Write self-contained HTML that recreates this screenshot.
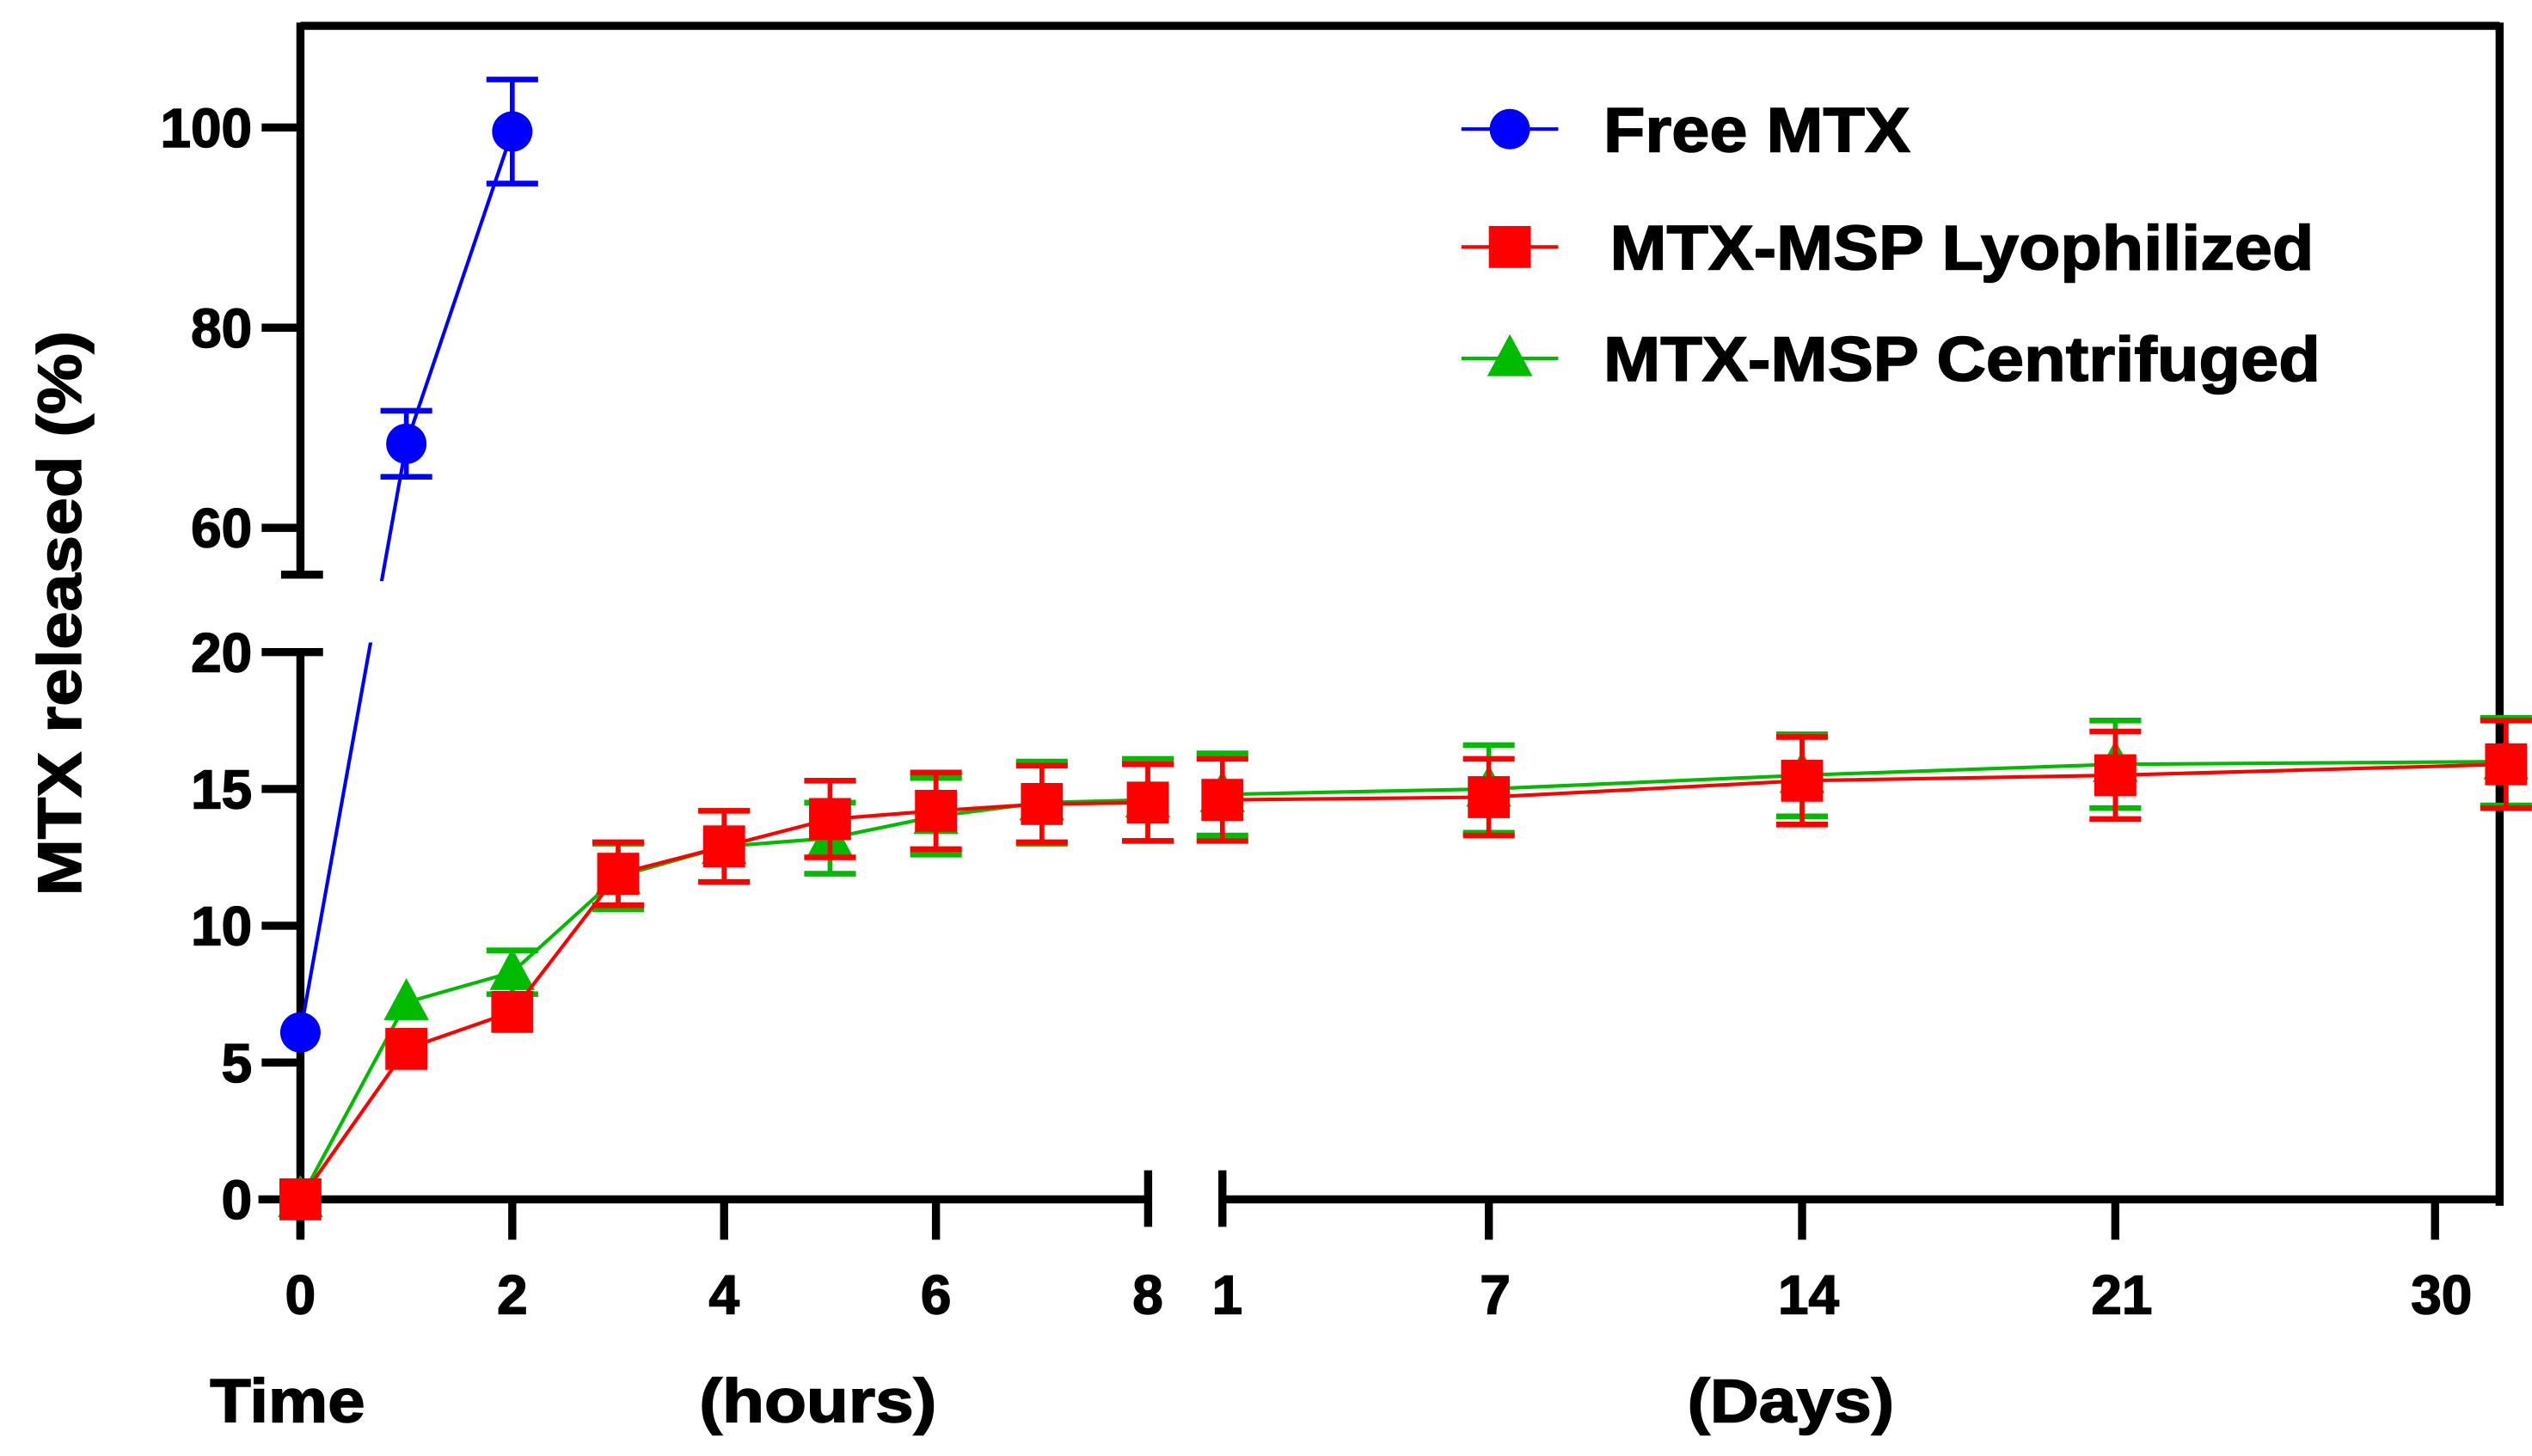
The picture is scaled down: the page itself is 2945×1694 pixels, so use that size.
<!DOCTYPE html>
<html><head><meta charset="utf-8"><style>
html,body{margin:0;padding:0;background:#fff;}
svg{display:block;font-family:"Liberation Sans",Arial,sans-serif;font-weight:bold;}
</style></head><body>
<svg id="chart" width="2945" height="1694" viewBox="0 0 1568 902" xmlns="http://www.w3.org/2000/svg">
<g id="axes"></g>
<g id="series"></g>
<g id="legend"></g>
</svg>
<script>
const hourCats = [0,1,2,3,4,5,6,7,8];
const dayCats = [1,7,14,21,32];
const lyoHours = [0,5.5,6.85,11.9,12.9,13.9,14.2,14.45,14.5];
const lyoHoursErr = [0,0,0,1.15,1.3,1.4,1.4,1.4,1.4];
const lyoDays = [14.6,14.7,15.3,15.5,15.9];
const lyoDaysErr = [1.5,1.4,1.6,1.6,1.6];
const cenHours = [0,7.2,8.3,11.8,12.9,13.2,14.0,14.5,14.6];
const cenHoursErr = [0,0,0.8,1.2,1.3,1.3,1.4,1.5,1.5];
const cenDays = [14.8,15.0,15.5,15.9,16.0];
const cenDaysErr = [1.5,1.6,1.5,1.6,1.6];
const freeHours = [0,1,2];
const freeVals = [6.1,68.4,99.6];
const freeErr = [0,3.3,5.2];
const yTicksLow = [0,5,10,15,20];
const yTicksHigh = [60,80,100];
const hourTicks = [0,2,4,6,8];
const dayTicks = [1,7,14,21,30];

const NS="http://www.w3.org/2000/svg";
function el(parent,tag,attrs,text){const e=document.createElementNS(NS,tag);for(const k in attrs)e.setAttribute(k,attrs[k]);if(text!==undefined)e.textContent=text;parent.appendChild(e);return e;}
const xH = h => 186 + h*65.6;
const dayPos = [[1,757],[7,922],[14,1116],[21,1310],[30,1508]];
function xD(d){
  for(let i=0;i<dayPos.length-1;i++){const [a,pa]=dayPos[i],[b,pb]=dayPos[i+1];
    if(d<=b||i===dayPos.length-2) return pa+(d-a)*(pb-pa)/(b-a);}
}
function y(v){ return v<=20 ? 743 - v*16.95 : 79 + (100-v)*6.2; }

const ax=document.getElementById('axes');
let l;
l=el(ax,'line',{x1:186,y1:16,x2:1548,y2:16,stroke:'#000','stroke-width':5});

l=el(ax,'line',{x1:1548,y1:14,x2:1548,y2:747,stroke:'#000','stroke-width':5});

l=el(ax,'line',{x1:186,y1:14,x2:186,y2:356,stroke:'#000','stroke-width':5});

el(ax,'line',{x1:174,y1:356,x2:200,y2:356,stroke:'#000','stroke-width':5});
l=el(ax,'line',{x1:186,y1:404,x2:186,y2:767,stroke:'#000','stroke-width':5});

el(ax,'line',{x1:162,y1:404,x2:200,y2:404,stroke:'#000','stroke-width':5});
l=el(ax,'line',{x1:160,y1:743,x2:711,y2:743,stroke:'#000','stroke-width':5});

el(ax,'line',{x1:711,y1:725,x2:711,y2:760,stroke:'#000','stroke-width':5});
l=el(ax,'line',{x1:757,y1:743,x2:1550,y2:743,stroke:'#000','stroke-width':5});

el(ax,'line',{x1:757,y1:725,x2:757,y2:760,stroke:'#000','stroke-width':5});

const tickFont={fill:'#000','font-size':34,'font-weight':'bold',stroke:'#000','stroke-width':0.8};
for(const t of yTicksLow.concat(yTicksHigh)){
  if(t!==20 && t!==0) el(ax,'line',{x1:162,y1:y(t),x2:186,y2:y(t),stroke:'#000','stroke-width':5});
  const tx=el(ax,'text',Object.assign({x:156,y:y(t)+12,'text-anchor':'end'},tickFont),String(t));
  
}
for(const t of hourTicks){
  if(t!==8) el(ax,'line',{x1:xH(t),y1:743,x2:xH(t),y2:768,stroke:'#000','stroke-width':5});
  const tx=el(ax,'text',Object.assign({x:xH(t),y:814,'text-anchor':'middle'},tickFont),String(t));
  
}
for(const t of dayTicks){
  if(t!==1) el(ax,'line',{x1:xD(t),y1:743,x2:xD(t),y2:768,stroke:'#000','stroke-width':5});
  const tx=el(ax,'text',Object.assign({x:xD(t)+(t===1?3:4),y:814,'text-anchor':'middle'},tickFont),String(t));
  
}
let t;
t=el(ax,'text',{x:0,y:0,'font-size':38,transform:'translate(50,380) rotate(-90)','text-anchor':'middle',textLength:350,lengthAdjust:'spacingAndGlyphs',stroke:'#000','stroke-width':0.8},'MTX released (%)');

t=el(ax,'text',{x:130,y:881,'font-size':38,textLength:96,lengthAdjust:'spacingAndGlyphs',stroke:'#000','stroke-width':0.8},'Time');

t=el(ax,'text',{x:433,y:881,'font-size':38,textLength:147,lengthAdjust:'spacingAndGlyphs',stroke:'#000','stroke-width':0.8},'(hours)');

t=el(ax,'text',{x:1045,y:881,'font-size':38,textLength:128,lengthAdjust:'spacingAndGlyphs',stroke:'#000','stroke-width':0.8},'(Days)');


const sg=document.getElementById('series');
const defs=el(sg,'defs',{});
const cp=el(defs,'clipPath',{id:'gapclip'});
el(cp,'path',{d:'M0 0H1568V360H0Z M0 398H1568V902H0Z','clip-rule':'evenodd'});

function errBar(g,x,v,e,color){
  if(!e) return;
  const a=y(v+e),b=y(v-e);
  el(g,'line',{x1:x,y1:a,x2:x,y2:b,stroke:color,'stroke-width':3});
  el(g,'line',{x1:x-16,y1:a,x2:x+16,y2:a,stroke:color,'stroke-width':3.5});
  el(g,'line',{x1:x-16,y1:b,x2:x+16,y2:b,stroke:color,'stroke-width':3.5});
}
function marker(g,shape,x,yy,color){
  if(shape==='circle') return el(g,'circle',{cx:x,cy:yy,r:12.5,fill:color});
  if(shape==='square') return el(g,'rect',{x:x-13,y:yy-13,width:26,height:26,fill:color});
  return el(g,'polygon',{points:`${x},${yy-15} ${x-14},${yy+11} ${x+14},${yy+11}`,fill:color});
}
function drawSeries(name,color,shape,hx,hv,he,dv,de){
  const g=el(sg,'g',{});
  
  
  const pts=[];
  hx.forEach((h,i)=>pts.push([xH(h),hv[i],he[i]]));
  if(dv) dayCats.forEach((d,i)=>pts.push([xD(d),dv[i],de[i]]));
  const hp=pts.slice(0,hx.length).map(p=>p[0]+','+y(p[1])).join(' ');
  el(g,'polyline',{points:hp,fill:'none',stroke:color,'stroke-width':2.2,'clip-path':'url(#gapclip)'});
  if(dv){
    const dp=pts.slice(hx.length).map(p=>p[0]+','+y(p[1])).join(' ');
    el(g,'polyline',{points:dp,fill:'none',stroke:color,'stroke-width':2.2});
  }
  pts.forEach(p=>errBar(g,p[0],p[1],p[2],color));
  pts.forEach(p=>{const m=marker(g,shape,p[0],y(p[1]),color);
    
    });
}
drawSeries('series-centrifuged','#00bb00','triangle',hourCats,cenHours,cenHoursErr,cenDays,cenDaysErr);
drawSeries('series-lyophilized','#ff0000','square',hourCats,lyoHours,lyoHoursErr,lyoDays,lyoDaysErr);
drawSeries('series-free-mtx','#0000ff','circle',freeHours,freeVals,freeErr,null,null);

const lg=document.getElementById('legend');
const items=[['Free MTX','#0000ff','circle',80,993,190],['MTX-MSP Lyophilized','#ff0000','square',153,997,436],['MTX-MSP Centrifuged','#00bb00','triangle',222,993,444]];
for(const [label,color,shape,yy,tx,tl] of items){
  const g=el(lg,'g',{});
  
  
  el(g,'line',{x1:905,y1:yy,x2:965,y2:yy,stroke:color,'stroke-width':2.2});
  marker(g,shape,935,yy,color);
  el(g,'text',{x:tx,y:yy+14,'font-size':39,textLength:tl,lengthAdjust:'spacingAndGlyphs',stroke:'#000','stroke-width':0.8},label);
}
</script>
</body></html>
